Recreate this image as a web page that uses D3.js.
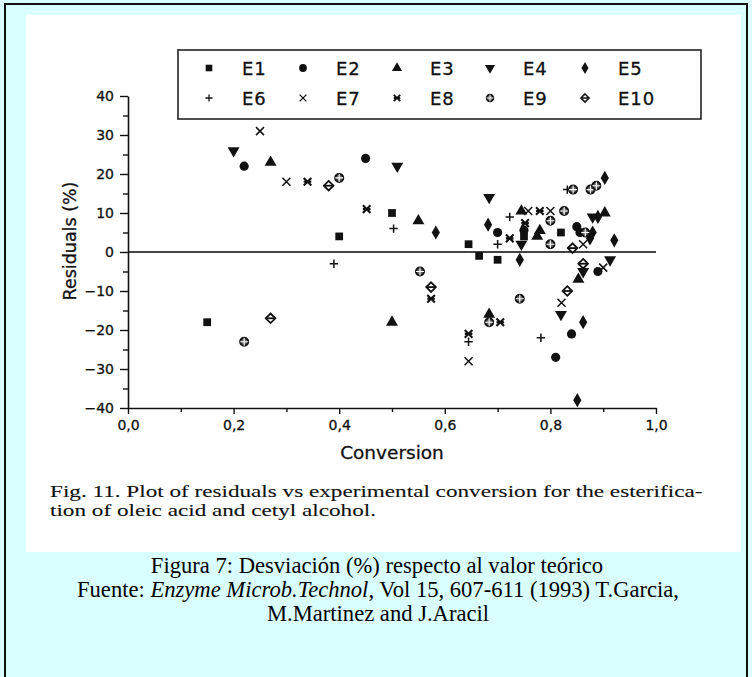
<!DOCTYPE html>
<html>
<head>
<meta charset="utf-8">
<script src="https://cdn.jsdelivr.net/npm/d3@7"></script>
<style>
  html, body { margin: 0; padding: 0; background: #d9ffff; }
  svg { display: block; }
</style>
</head>
<body>
<svg id="chart" width="752" height="677"></svg>
<script>
// ---------- data ----------
const seriesNames = ["E1","E2","E3","E4","E5","E6","E7","E8","E9","E10"];
const E1 = [[0.15,-18],[0.40,4],[0.50,10],[0.645,2],[0.665,-1],[0.70,-2],[0.75,4],[0.82,5]];
const E2 = [[0.22,22],[0.45,24],[0.70,5],[0.75,5.6],[0.81,-27],[0.84,-21],[0.85,6.5],[0.856,5],[0.89,-5]];
const E3 = [[0.27,23],[0.50,-18],[0.55,8],[0.684,-16],[0.745,10.5],[0.775,4],[0.78,5.5],[0.853,-7],[0.903,10]];
const E4 = [[0.20,26],[0.51,22],[0.684,14],[0.745,2],[0.82,-16],[0.862,-5],[0.88,9],[0.913,-2]];
const E5 = [[0.583,5],[0.682,7],[0.742,-2],[0.851,-38],[0.862,-18],[0.875,3.5],[0.88,5],[0.89,9],[0.903,19],[0.921,3]];
const E6 = [[0.39,-3],[0.503,6],[0.645,-23],[0.70,2],[0.723,9],[0.782,-22],[0.832,16]];
const E7 = [[0.25,31],[0.30,18],[0.645,-28],[0.758,10.5],[0.80,10.5],[0.821,-13],[0.862,2],[0.90,-4]];
const E8 = [[0.34,18],[0.452,11],[0.574,-12],[0.645,-21],[0.705,-18],[0.723,3.5],[0.752,7.4],[0.78,10.5]];
const E9 = [[0.22,-23],[0.40,19],[0.553,-5],[0.684,-18],[0.742,-12],[0.80,8],[0.80,2],[0.826,10.5],[0.843,16],[0.866,5],[0.876,16],[0.887,17]];
const E10 = [[0.27,-17],[0.38,17],[0.574,-9],[0.832,-10],[0.842,1],[0.862,-3]];
const allSeries = [E1,E2,E3,E4,E5,E6,E7,E8,E9,E10];

const xTicks = [0, 0.2, 0.4, 0.6, 0.8, 1.0];
const xMinor = [0.1, 0.3, 0.5, 0.7, 0.9];
const yTicks = [-40, -30, -20, -10, 0, 10, 20, 30, 40];
const yMinor = [-35, -25, -15, -5, 5, 15, 25, 35];

const xTitle = "Conversion";
const yTitle = "Residuals (%)";
const figCaption = ["Fig. 11.  Plot of residuals vs experimental conversion for the esterifica-",
                    "tion of oleic acid and cetyl alcohol."];

// ---------- layout ----------
const svg = d3.select("#chart");
const INK = "#111";

// outer frame and white panel
svg.append("rect").attr("x", 5).attr("y", 4).attr("width", 742).attr("height", 690)
  .attr("fill", "#d9ffff").attr("stroke", "#111").attr("stroke-width", 2);
svg.append("rect").attr("x", 26).attr("y", 15).attr("width", 715).attr("height", 537)
  .attr("fill", "#ffffff");

const x = d3.scaleLinear().domain([0, 1]).range([128, 656]);
const y = d3.scaleLinear().domain([-40, 40]).range([408, 96]);

// zero line
svg.append("line")
  .attr("x1", x(0)).attr("x2", x(1)).attr("y1", y(0)).attr("y2", y(0))
  .attr("stroke", "#444").attr("stroke-width", 2);

const fmt = d => d3.format(".1f")(d).replace(".", ",");

// y axis
svg.append("g").attr("transform", `translate(${x(0)},0)`)
  .call(d3.axisLeft(y).tickValues(yTicks).tickSize(8).tickSizeOuter(0).tickPadding(6));
svg.append("g").attr("transform", `translate(${x(0)},0)`)
  .call(d3.axisLeft(y).tickValues(yMinor).tickSize(5).tickSizeOuter(0).tickFormat(""))
  .select(".domain").remove();

// x axis
svg.append("g").attr("transform", `translate(0,${y(-40)})`)
  .call(d3.axisBottom(x).tickValues(xTicks).tickSize(6).tickSizeOuter(0).tickPadding(6).tickFormat(fmt));
svg.append("g").attr("transform", `translate(0,${y(-40)})`)
  .call(d3.axisBottom(x).tickValues(xMinor).tickSize(4).tickSizeOuter(0).tickFormat(""))
  .select(".domain").remove();

svg.selectAll(".domain").attr("stroke", INK).attr("stroke-width", 1.6);
svg.selectAll(".tick line").attr("stroke", INK).attr("stroke-width", 1.4);
svg.selectAll(".tick text").attr("font-family", "DejaVu Sans").attr("font-size", 14)
  .attr("fill", INK).attr("stroke", INK).attr("stroke-width", 0.3);

// axis titles
svg.append("text").attr("x", 392).attr("y", 459).attr("text-anchor", "middle")
  .attr("font-family", "DejaVu Sans").attr("font-size", 18.5).attr("fill", INK)
  .attr("stroke", INK).attr("stroke-width", 0.3).text(xTitle);
svg.append("text").attr("transform", "translate(76,241) rotate(-90)").attr("text-anchor", "middle")
  .attr("font-family", "DejaVu Sans").attr("font-size", 17.5).attr("fill", INK)
  .attr("stroke", INK).attr("stroke-width", 0.3).text(yTitle);

// ---------- symbols ----------
function drawSymbol(g, i, s) {
  const sw = 1.5 * s;
  switch (i) {
    case 0: g.append("path").attr("d", d3.symbol(d3.symbolSquare, 60 * s * s)()).attr("fill", INK); break;
    case 1: g.append("path").attr("d", d3.symbol(d3.symbolCircle, 66 * s * s)()).attr("fill", INK); break;
    case 2: g.append("path").attr("d", d3.symbol(d3.symbolTriangle, 62 * s * s)()).attr("fill", INK); break;
    case 3: g.append("path").attr("d", d3.symbol(d3.symbolTriangle, 62 * s * s)())
              .attr("transform", "rotate(180)").attr("fill", INK); break;
    case 4: g.append("path").attr("d", d3.symbol(d3.symbolDiamond, 58 * s * s)()).attr("fill", INK); break;
    case 5: {
      const r = 4.2 * s;
      g.append("path").attr("d", `M${-r},0H${r}M0,${-r}V${r}`).attr("stroke", INK).attr("stroke-width", sw).attr("fill", "none");
      break;
    }
    case 6: {
      const r = 4 * s;
      g.append("path").attr("d", `M${-r},${-r}L${r},${r}M${-r},${r}L${r},${-r}`).attr("stroke", INK).attr("stroke-width", sw).attr("fill", "none");
      break;
    }
    case 7: {
      const r = 3.8 * s;
      g.append("path").attr("d", `M${-r},${-r}L${r},${r}M${-r},${r}L${r},${-r}M${-r},0H${r}`).attr("stroke", INK).attr("stroke-width", 2.1 * s).attr("fill", "none");
      break;
    }
    case 8: {
      const r = 4 * s;
      g.append("circle").attr("r", r).attr("fill", "#666").attr("stroke", INK).attr("stroke-width", 2 * s);
      g.append("path").attr("d", `M${-r},0H${r}M0,${-r}V${r}`).attr("stroke", "#fff").attr("stroke-width", 1.1 * s);
      break;
    }
    case 9: {
      const r = 4.8 * s;
      g.append("path").attr("d", `M0,${-r}L${r},0L0,${r}L${-r},0Z`).attr("fill", "#fff").attr("stroke", INK).attr("stroke-width", 1.8 * s);
      g.append("path").attr("d", `M${-r},0H${r}`).attr("stroke", INK).attr("stroke-width", 1.8 * s);
      break;
    }
  }
}

// points
const plot = svg.append("g");
allSeries.forEach((data, i) => {
  plot.selectAll(null).data(data).enter().append("g")
    .attr("transform", d => `translate(${x(d[0])},${y(d[1])})`)
    .each(function () { drawSymbol(d3.select(this), i, 1); });
});

// ---------- legend ----------
const legend = svg.append("g");
legend.append("rect").attr("x", 178).attr("y", 50).attr("width", 523).attr("height", 69)
  .attr("fill", "#fff").attr("stroke", "#222").attr("stroke-width", 1.6);
const legColX = [209, 303, 397, 490, 585];
const legRowY = [68, 98];
seriesNames.forEach((name, i) => {
  const cx = legColX[i % 5], cy = legRowY[Math.floor(i / 5)];
  const g = legend.append("g").attr("transform", `translate(${cx},${cy})`);
  drawSymbol(g, i, 0.85);
  legend.append("text").attr("x", cx + 33).attr("y", cy + 6.5)
    .attr("font-family", "DejaVu Sans").attr("font-size", 18).attr("letter-spacing", 1)
    .attr("fill", INK).attr("stroke", INK).attr("stroke-width", 0.3).text(name);
});

// ---------- captions ----------
function stretchedLine(str, xLeft, yBase, size, sx) {
  const g = svg.append("g").attr("transform", `translate(${xLeft},${yBase}) scale(${sx},1)`);
  return g.append("text").attr("x", 0).attr("y", 0)
    .attr("font-family", "Liberation Serif").attr("font-size", size).attr("fill", INK)
    .attr("stroke", INK).attr("stroke-width", 0.12).text(str);
}
const capSize = 17.5;
const probe = svg.append("text").attr("font-family", "Liberation Serif").attr("font-size", capSize)
  .text(figCaption[0]);
const natural = probe.node().getComputedTextLength();
probe.remove();
const sx = 653 / natural;
stretchedLine(figCaption[0], 50, 497, capSize, sx);
stretchedLine(figCaption[1], 50, 516, capSize, sx);

// footer
const fs = 22.6;
svg.append("text").attr("x", 377).attr("y", 573).attr("text-anchor", "middle")
  .attr("font-family", "Liberation Serif").attr("font-size", fs).attr("fill", "#000")
  .text("Figura 7: Desviación (%) respecto al valor teórico");
const f2 = svg.append("text").attr("x", 378).attr("y", 597).attr("text-anchor", "middle")
  .attr("font-family", "Liberation Serif").attr("font-size", fs).attr("fill", "#000");
f2.append("tspan").text("Fuente: ");
f2.append("tspan").attr("font-style", "italic").text("Enzyme Microb.Technol");
f2.append("tspan").text(", Vol 15, 607-611 (1993) T.Garcia,");
svg.append("text").attr("x", 378).attr("y", 621).attr("text-anchor", "middle")
  .attr("font-family", "Liberation Serif").attr("font-size", fs).attr("fill", "#000")
  .text("M.Martinez and J.Aracil");
</script>
</body>
</html>
